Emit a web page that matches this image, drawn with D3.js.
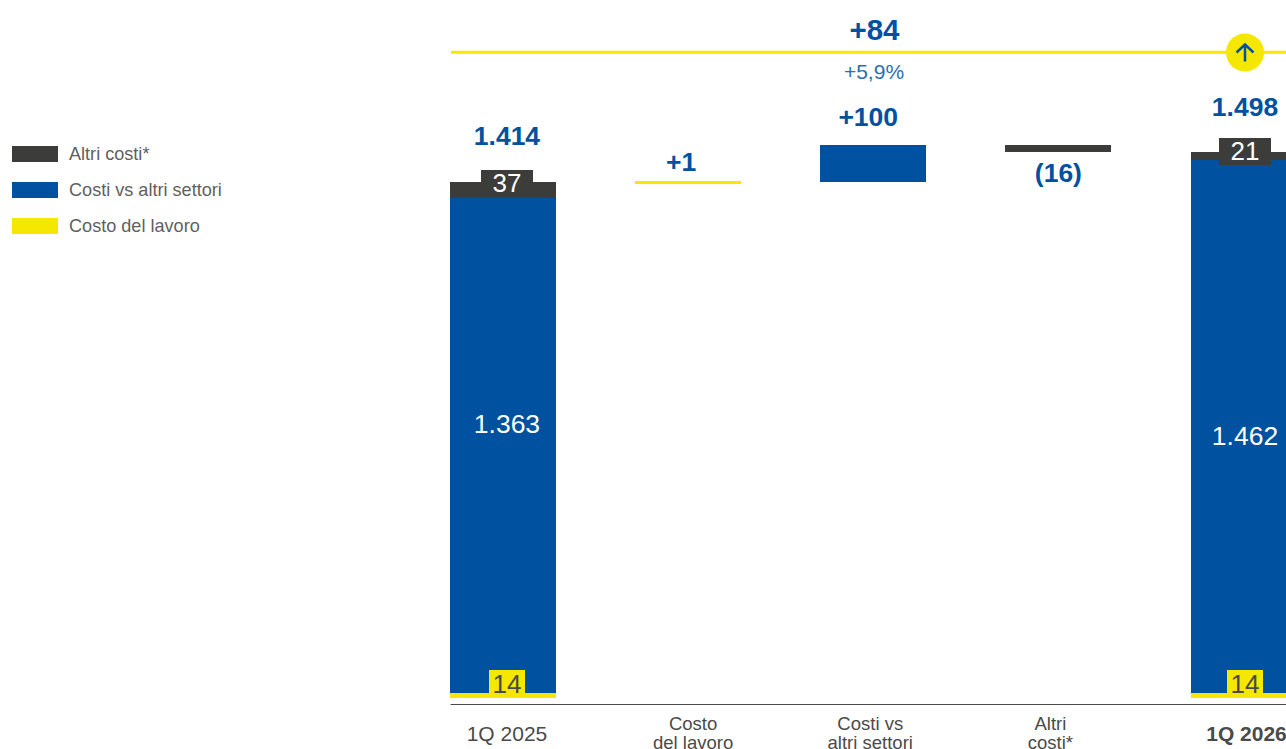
<!DOCTYPE html>
<html>
<head>
<meta charset="utf-8">
<script src="https://cdn.jsdelivr.net/npm/d3@7"></script>
<style>
html, body { margin: 0; padding: 0; background: #fff; overflow: hidden; }
text { font-family: "Liberation Sans", Arial, sans-serif; }
rect { shape-rendering: crispEdges; }
</style>
</head>
<body>
<div id="chart"></div>
<script>
const categories = ["1Q 2025", "Costo|del lavoro", "Costi vs|altri settori", "Altri|costi*", "1Q 2026"];
const legendLabels = ["Altri costi*", "Costi vs altri settori", "Costo del lavoro"];
const laborValues = [14, 14];
const sectorValues = [1363, 1462];
const otherValues = [37, 21];
const totalLabels = ["1.414", "1.498"];
const bridgeValues = [1, 100, -16];
const bridgeLabels = ["+1", "+100", "(16)"];
const deltaLabel = "+84";
const deltaPercentLabel = "+5,9%";

const blue = "#00519f", dark = "#3c3c3b", yellow = "#f5e700", grey = "#4a4a49";

const width = 1286, height = 749;

const svg = d3.select("#chart").append("svg")
    .attr("width", width)
    .attr("height", height)
    .style("display", "block");

const x = d3.scaleBand()
    .domain(categories)
    .range([450, 1296.5])
    .paddingInner(0.4278)
    .paddingOuter(0);

const y = d3.scaleLinear()
    .domain([0, 1414])
    .range([698, 182]);

// axis
const axisDx = [4, 5, -3, -8, 3];
const axis = svg.append("g")
    .attr("transform", "translate(0,704)")
    .call(d3.axisBottom(x).tickSize(0).tickFormat(""));
axis.select(".domain").attr("stroke", grey).attr("stroke-width", 1);
axis.selectAll(".tick text").remove();

categories.forEach((c, i) => {
    const parts = c.split("|");
    const cx = x(c) + x.bandwidth() / 2 + axisDx[i];
    const label = svg.append("text")
        .attr("text-anchor", "middle")
        .attr("fill", grey);
    if (parts.length == 1) {
        label.attr("x", cx).attr("y", 741)
            .attr("font-size", 21)
            .attr("font-weight", i == 4 ? "bold" : "normal")
            .text(c);
    } else {
        label.attr("font-size", 18.5);
        parts.forEach((p, j) => {
            label.append("tspan").attr("x", cx).attr("y", 730 + j * 19).text(p);
        });
    }
});

// stacked total bars
const totalCats = [categories[0], categories[4]];
const labelDx = [4, 1.5];
const darkBoxes = [{ top: 170, bottom: 198 }, { top: 138, bottom: 165 }];
const otherMinHeight = [16, 8];
const sectorLabelY = [433, 445];
const totalLabelY = [145, 116];

totalCats.forEach((c, i) => {
    const bx = x(c), bw = x.bandwidth();
    const cx = bx + bw / 2 + labelDx[i];
    const y0 = y(laborValues[i]);
    const y1 = y(laborValues[i] + sectorValues[i]);
    const y2 = y(laborValues[i] + sectorValues[i] + otherValues[i]);

    svg.append("rect").attr("x", bx).attr("width", bw).attr("y", y0).attr("height", y(0) - y0).attr("fill", yellow);
    svg.append("rect").attr("x", bx).attr("width", bw).attr("y", y1).attr("height", y0 - y1).attr("fill", blue);
    svg.append("rect").attr("x", bx).attr("width", bw).attr("y", y2).attr("height", Math.max(y1 - y2, otherMinHeight[i])).attr("fill", dark);

    // label backgrounds
    svg.append("rect").attr("x", cx - 26).attr("width", 52)
        .attr("y", darkBoxes[i].top).attr("height", darkBoxes[i].bottom - darkBoxes[i].top)
        .attr("fill", dark);
    svg.append("rect").attr("x", cx - 18).attr("width", 36)
        .attr("y", 670).attr("height", y0 - 670 + 1)
        .attr("fill", yellow);

    svg.append("text").attr("x", cx).attr("y", darkBoxes[i].top + 22)
        .attr("text-anchor", "middle").attr("font-size", 26).attr("fill", "#fff")
        .text(otherValues[i]);
    svg.append("text").attr("x", cx).attr("y", sectorLabelY[i])
        .attr("text-anchor", "middle").attr("font-size", 26.5).attr("fill", "#fff")
        .text(d3.format(",")(sectorValues[i]).replace(",", "."));
    svg.append("text").attr("x", cx).attr("y", 693)
        .attr("text-anchor", "middle").attr("font-size", 26).attr("fill", grey)
        .text(laborValues[i]);
    svg.append("text").attr("x", cx).attr("y", totalLabelY[i])
        .attr("text-anchor", "middle").attr("font-size", 26.5).attr("font-weight", "bold").attr("fill", blue)
        .text(totalLabels[i]);
});

// bridge bars
const bridgeColors = [yellow, blue, dark];
const bridgeMinHeight = [3, 0, 7];
const bridgeDy = [-1, 0, 0];
const bridgeLabelDx = [-7, -5, 0];
const bridgeLabelY = [171, 126, 182];
let level = laborValues[0] + sectorValues[0] + otherValues[0];

bridgeValues.forEach((v, i) => {
    const c = categories[i + 1];
    const next = level + v;
    const top = y(Math.max(level, next)) + bridgeDy[i];
    const h = Math.max(Math.abs(y(level) - y(next)), bridgeMinHeight[i]);
    svg.append("rect")
        .attr("x", x(c)).attr("width", x.bandwidth())
        .attr("y", top).attr("height", h)
        .attr("fill", bridgeColors[i]);
    svg.append("text")
        .attr("x", x(c) + x.bandwidth() / 2 + bridgeLabelDx[i])
        .attr("y", bridgeLabelY[i])
        .attr("text-anchor", "middle").attr("font-size", 26.5).attr("font-weight", "bold").attr("fill", blue)
        .text(bridgeLabels[i]);
    level = next;
});

// delta line on top
svg.append("line")
    .attr("x1", 451).attr("x2", width).attr("y1", 52.3).attr("y2", 52.3)
    .attr("stroke", yellow).attr("stroke-width", 3);
svg.append("text").attr("x", 874.5).attr("y", 39.5)
    .attr("text-anchor", "middle").attr("font-size", 29.5).attr("font-weight", "bold").attr("fill", blue)
    .text(deltaLabel);
svg.append("text").attr("x", 874).attr("y", 78.5)
    .attr("text-anchor", "middle").attr("font-size", 21).attr("fill", "#2a6fb5")
    .text(deltaPercentLabel);

const arrow = svg.append("g").attr("transform", "translate(1245,52.5)");
arrow.append("circle").attr("r", 19).attr("fill", yellow);
arrow.append("path")
    .attr("d", "M0,9V-8M-8.5,0L0,-8L8.5,0")
    .attr("fill", "none").attr("stroke", blue).attr("stroke-width", 2.5);

// legend
const legendColors = [dark, blue, yellow];
const legend = svg.selectAll(".legend")
    .data(legendLabels)
    .enter()
    .append("g")
    .attr("class", "legend")
    .attr("transform", (d, i) => "translate(12," + (146 + i * 36) + ")");
legend.append("rect")
    .attr("width", 46).attr("height", 16)
    .attr("fill", (d, i) => legendColors[i]);
legend.append("text")
    .attr("x", 57).attr("y", 14)
    .attr("font-size", 18.1).attr("fill", "#5f5f5e")
    .text(d => d);
</script>
</body>
</html>
